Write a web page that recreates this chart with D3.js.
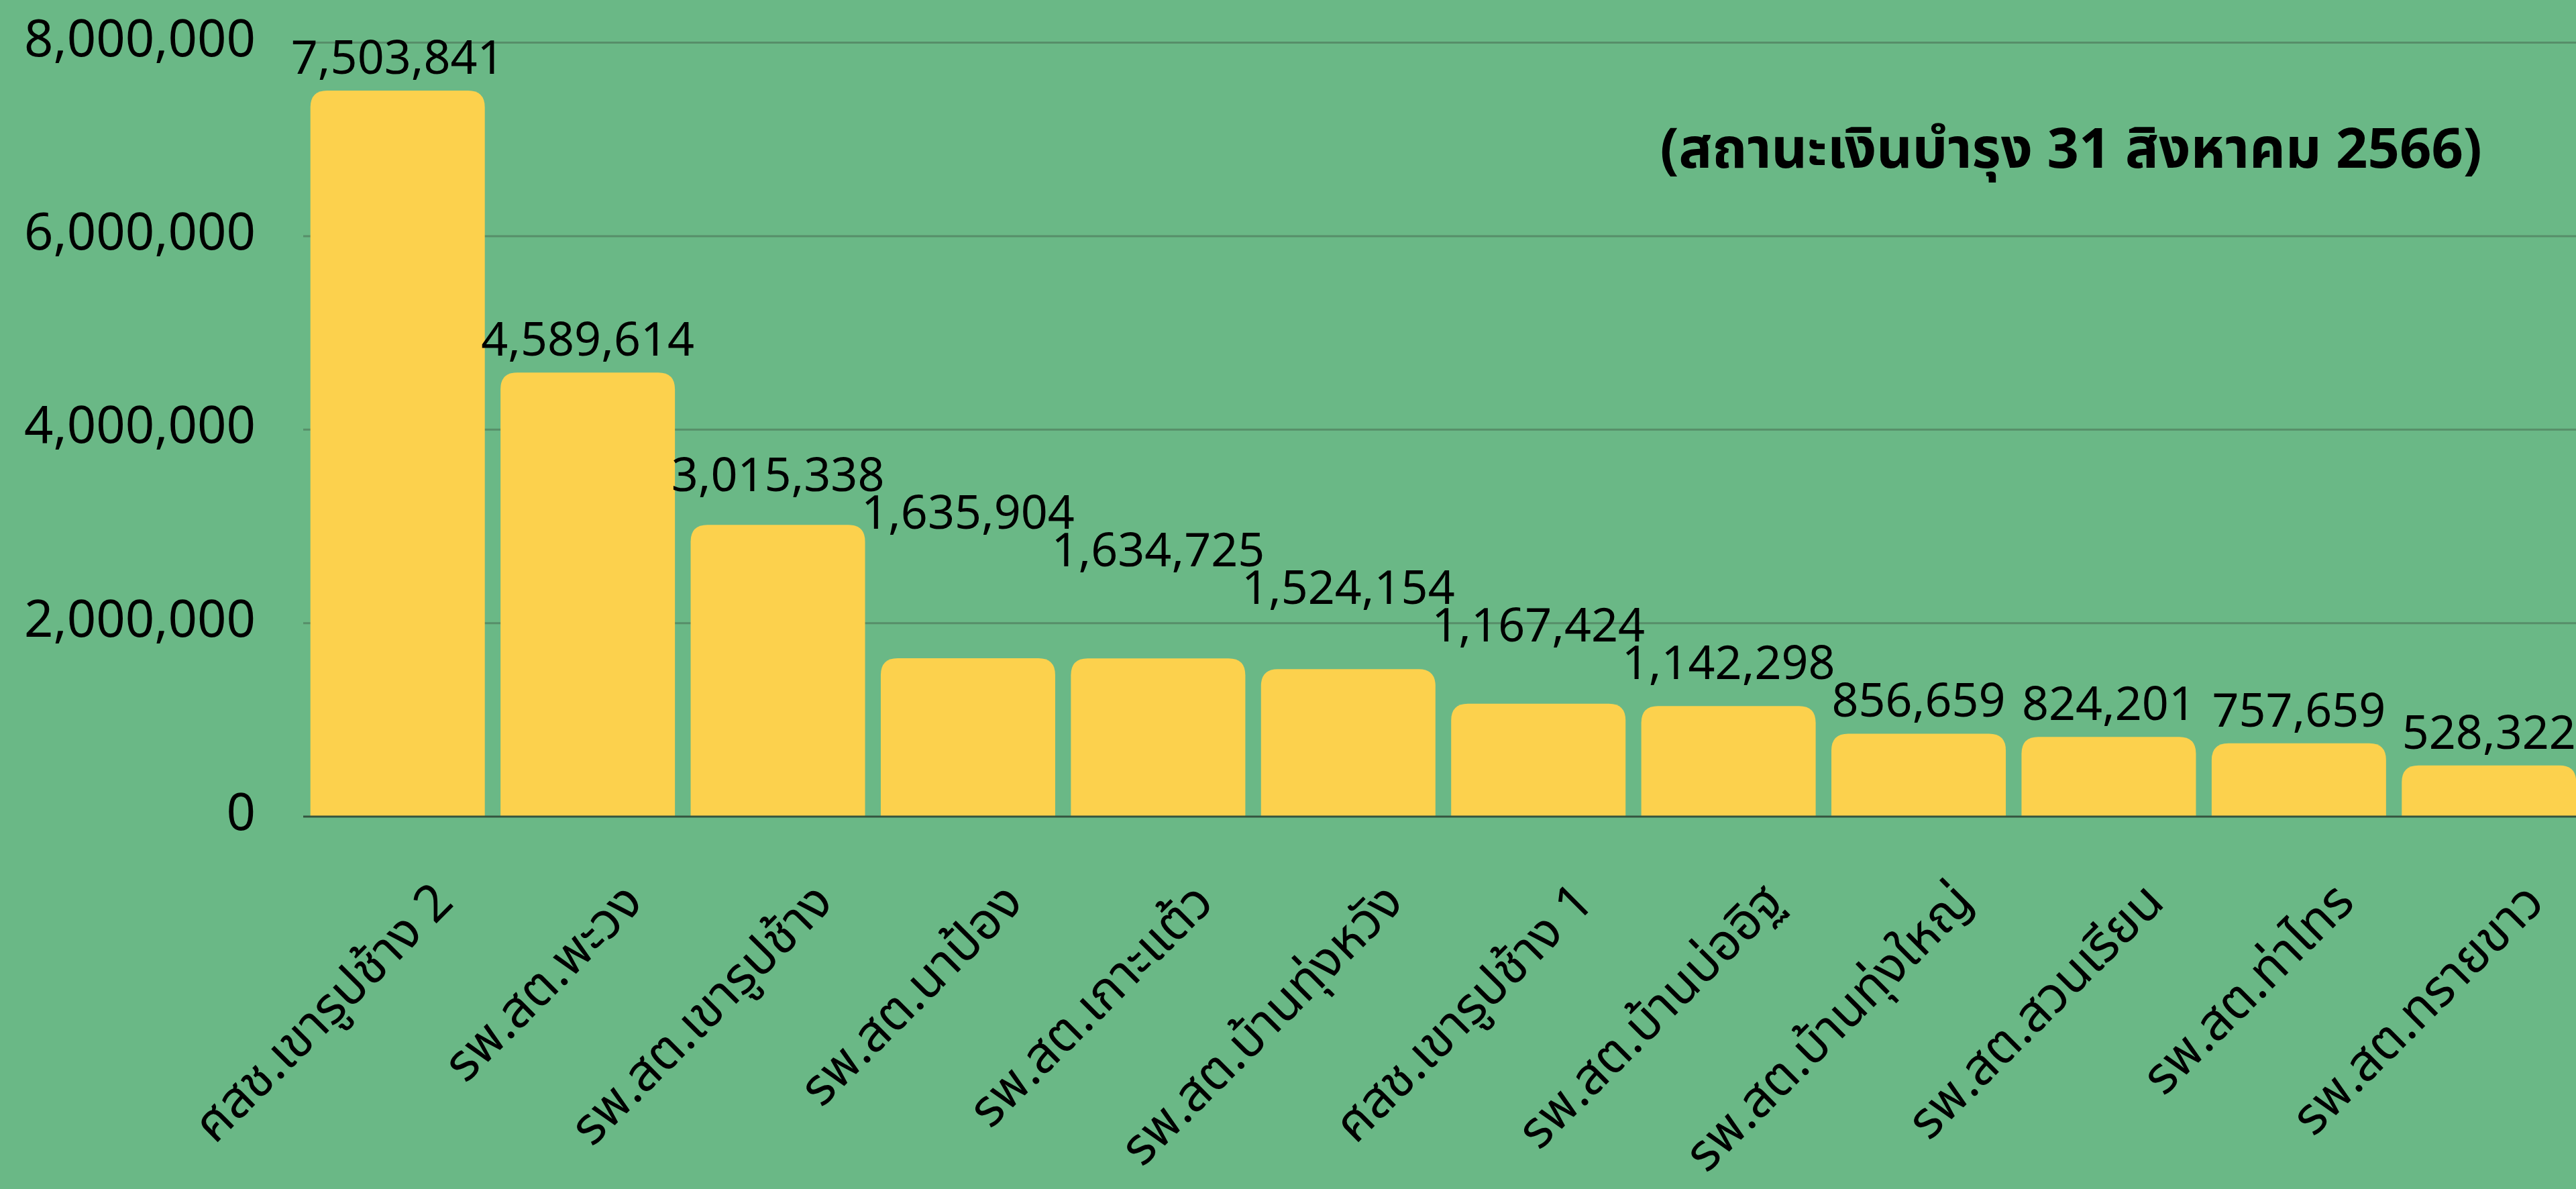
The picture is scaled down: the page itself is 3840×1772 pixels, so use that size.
<!DOCTYPE html>
<html>
<head>
<meta charset="utf-8">
<script src="https://cdn.jsdelivr.net/npm/d3@7"></script>
<style>
  html, body { margin: 0; padding: 0; background: #6ab886; }
  svg { display: block; font-family: "Noto Sans", "Noto Sans Thai", "DejaVu Sans", sans-serif; }
</style>
</head>
<body>
<svg id="chart"></svg>
<script>
'use strict';

var categories = ['ศสช.เขารูปช้าง 2', 'รพ.สต.พะวง', 'รพ.สต.เขารูปช้าง', 'รพ.สต.นาป้อง', 'รพ.สต.เกาะแต้ว', 'รพ.สต.บ้านทุ่งหวัง',
    'ศสช.เขารูปช้าง 1', 'รพ.สต.บ้านบ่ออิฐ', 'รพ.สต.บ้านทุ่งใหญ่', 'รพ.สต.สวนเรียน', 'รพ.สต.ท่าไทร', 'รพ.สต.ทรายขาว'];
var values = [7503841, 4589614, 3015338, 1635904, 1634725, 1524154, 1167424, 1142298, 856659, 824201, 757659, 528322];
var y_ticks = [0, 2000000, 4000000, 6000000, 8000000];
var title_text = '(สถานะเงินบำรุง 31 สิงหาคม 2566)';

var width = 3840, height = 1772;
var bar_color = '#fcd14d';
var grid_color = '#578e69';
var radius = 25;

var svg = d3.select('#chart').attr('width', width).attr('height', height);
svg.append('rect').attr('width', width).attr('height', height).attr('fill', '#6ab886');

var x = d3.scaleBand().domain(categories).range([451, 3852]).paddingInner(0.0826).paddingOuter(0.0413);
var y = d3.scaleLinear().domain([0, 8000000]).range([1217, 63.5]);
var fmt = d3.format(',');

// gridlines
svg.append('g').selectAll('line').data(y_ticks.slice(1)).enter().append('line')
    .attr('x1', 452).attr('x2', width)
    .attr('y1', function (d) { return y(d); }).attr('y2', function (d) { return y(d); })
    .attr('stroke', grid_color).attr('stroke-width', 3);

// y labels
svg.append('g').selectAll('text').data(y_ticks).enter().append('text')
    .attr('x', 381).attr('y', function (d) { return y(d) + 20; })
    .attr('text-anchor', 'end').style('font-size', '76px').attr('fill', '#000')
    .text(function (d) { return fmt(d); });

// bars with rounded tops
function barPath(d, i) {
    var x0 = x(categories[i]), w = x.bandwidth();
    var top = y(d), base = y(0), r = Math.min(radius, base - top);
    return 'M' + x0 + ',' + base + 'V' + (top + r) +
        'Q' + x0 + ',' + top + ' ' + (x0 + r) + ',' + top +
        'H' + (x0 + w - r) +
        'Q' + (x0 + w) + ',' + top + ' ' + (x0 + w) + ',' + (top + r) +
        'V' + base + 'Z';
}
svg.append('g').selectAll('path').data(values).enter().append('path')
    .attr('d', barPath).attr('fill', bar_color);

// baseline
svg.append('line').attr('x1', 452).attr('x2', width).attr('y1', y(0)).attr('y2', y(0))
    .attr('stroke', '#34543f').attr('stroke-width', 3);

// value labels, pushed up when they would run into the label on their right
var labels = svg.append('g').selectAll('text').data(values).enter().append('text')
    .attr('text-anchor', 'middle').style('font-size', '70px').attr('fill', '#000')
    .attr('x', function (d, i) { return x(categories[i]) + x.bandwidth() / 2; })
    .attr('y', function (d) { return y(d) - 25; })
    .text(function (d) { return fmt(d); });

var nodes = labels.nodes();
var cap = 52;
for (var i = nodes.length - 2; i >= 0; i--) {
    var a = nodes[i].getBBox(), b = nodes[i + 1].getBBox();
    var base_a = +nodes[i].getAttribute('y'), base_b = +nodes[i + 1].getAttribute('y');
    var overlap_x = (a.x + a.width) - b.x > 0;
    if (overlap_x && base_a > base_b - cap - 4) {
        nodes[i].setAttribute('y', base_b - cap - 4);
    }
}

// x labels
svg.append('g').selectAll('text').data(categories).enter().append('text')
    .attr('text-anchor', 'end').style('font-size', '76px').attr('fill', '#000')
    .attr('transform', function (d) {
        return 'translate(' + (x(d) + x.bandwidth() / 2 + 86) + ',1348) rotate(-45)';
    })
    .text(function (d) { return d; });

// title
svg.append('text').attr('x', 3700).attr('y', 250).attr('text-anchor', 'end')
    .style('font-size', '83px').style('font-weight', 'bold').attr('fill', '#000')
    .text(title_text);
</script>
</body>
</html>
